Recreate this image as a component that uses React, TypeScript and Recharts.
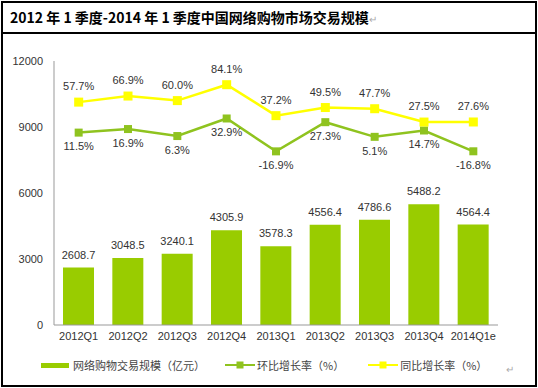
import React from 'react';
import { ComposedChart, Bar, Line, XAxis, YAxis, LabelList } from 'recharts';

const quarters = ['2012Q1', '2012Q2', '2012Q3', '2012Q4', '2013Q1', '2013Q2', '2013Q3', '2013Q4', '2014Q1e'];
const scale = [2608.7, 3048.5, 3240.1, 4305.9, 3578.3, 4556.4, 4786.6, 5488.2, 4564.4];
const qoq = [11.5, 16.9, 6.3, 32.9, -16.9, 27.3, 5.1, 14.7, -16.8];
const yoy = [57.7, 66.9, 60.0, 84.1, 37.2, 49.5, 47.7, 27.5, 27.6];
const leftTicks = [0, 3000, 6000, 9000, 12000];

const title = '2012 年 1 季度-2014 年 1 季度中国网络购物市场交易规模';
const legendNames = ['网络购物交易规模（亿元）', '环比增长率（%）', '同比增长率（%）'];

const BAR = '#99cc00';
const GREEN = '#8fc31f';
const YELLOW = '#ffff00';
const TEXT = '#333';
const FONT = '"Liberation Sans", Arial, sans-serif';

const data = quarters.map((q, i) => ({ q, scale: scale[i], qoq: qoq[i], yoy: yoy[i] }));

const square = (color: string, size: number) => (props: any) => {
    const { cx, cy, index } = props;
    if (cx == null || cy == null) return <g key={index} />;
    return <rect key={index} x={cx - size / 2} y={cy - size / 2} width={size} height={size} fill={color} />;
};

const pct = (v: any) => `${Number(v).toFixed(1)}%`;

export default function App() {
    return (
        <div style={{ position: 'absolute', left: 0, top: 0, width: 538, height: 388, fontFamily: FONT }}>
            <div style={{ position: 'absolute', left: 1, top: 1, width: 532, height: 382, border: '2px solid #000' }} />
            <div style={{ position: 'absolute', left: 1, top: 32, width: 536, height: 2, background: '#000' }} />
            <div style={{
                position: 'absolute', left: 10, top: 7, fontSize: 14, fontWeight: 'bold', color: '#000',
                fontFamily: '"Noto Sans CJK SC", sans-serif', whiteSpace: 'nowrap', lineHeight: '20px',
            }}>
                {title}<span style={{ color: '#aaa', fontWeight: 'normal', fontSize: 10 }}>↵</span>
            </div>
            <div style={{ position: 'absolute', left: 0, top: 0 }}>
                <ComposedChart width={538} height={388} data={data}
                    margin={{ top: 61, right: 40, left: 0, bottom: 43 }} barCategoryGap={0}>
                    <XAxis dataKey="q" axisLine={{ stroke: '#999' }} tickLine={false} tickSize={0} tickMargin={7}
                        interval={0} height={20} tick={{ fill: TEXT, fontSize: 11, fontFamily: FONT }} />
                    <YAxis yAxisId="left" domain={[0, 12000]} ticks={leftTicks} width={54}
                        axisLine={{ stroke: '#999' }} tickLine={false} tickSize={0} tickMargin={11}
                        tick={{ fill: TEXT, fontSize: 11, fontFamily: FONT }} />
                    <YAxis yAxisId="right" orientation="right" domain={[-280, 120]} hide />
                    <Bar yAxisId="left" dataKey="scale" fill={BAR} barSize={31} isAnimationActive={false}>
                        <LabelList dataKey="scale" position="top" offset={9} fill={TEXT} fontSize={11} fontFamily={FONT}
                            formatter={(v: any) => Number(v).toFixed(1)} />
                    </Bar>
                    <Line yAxisId="right" dataKey="qoq" stroke={GREEN} strokeWidth={2.5} type="linear"
                        dot={square(GREEN, 8)} activeDot={false} isAnimationActive={false}>
                        <LabelList dataKey="qoq" position="bottom" offset={10} fill={TEXT} fontSize={11}
                            fontFamily={FONT} formatter={pct} />
                    </Line>
                    <Line yAxisId="right" dataKey="yoy" stroke={YELLOW} strokeWidth={2.5} type="linear"
                        dot={square(YELLOW, 9)} activeDot={false} isAnimationActive={false}>
                        <LabelList dataKey="yoy" position="top" offset={12} fill={TEXT} fontSize={11}
                            fontFamily={FONT} formatter={pct} />
                    </Line>
                </ComposedChart>
            </div>
            <div style={{
                position: 'absolute', left: 41, top: 357, height: 16, display: 'flex', alignItems: 'center',
                fontSize: 11, color: '#444', fontFamily: '"Noto Sans CJK SC", sans-serif', whiteSpace: 'nowrap',
            }}>
                <span style={{ display: 'inline-block', width: 28, height: 5, background: BAR, marginRight: 4 }} />
                <span style={{ marginRight: 20 }}>{legendNames[0]}</span>
                <svg width={30} height={10} style={{ marginRight: 2 }}>
                    <line x1={0} y1={5} x2={30} y2={5} stroke={GREEN} strokeWidth={2} />
                    <rect x={11.5} y={1.5} width={7} height={7} fill={GREEN} />
                </svg>
                <span style={{ marginRight: 24 }}>{legendNames[1]}</span>
                <svg width={30} height={10} style={{ marginRight: 2 }}>
                    <line x1={0} y1={5} x2={30} y2={5} stroke={YELLOW} strokeWidth={2} />
                    <rect x={11.5} y={1.5} width={7} height={7} fill={YELLOW} />
                </svg>
                <span>{legendNames[2]}</span>
            </div>
            <div style={{ position: 'absolute', left: 506, top: 364, fontSize: 10, color: '#aaa' }}>↵</div>
        </div>
    );
}
